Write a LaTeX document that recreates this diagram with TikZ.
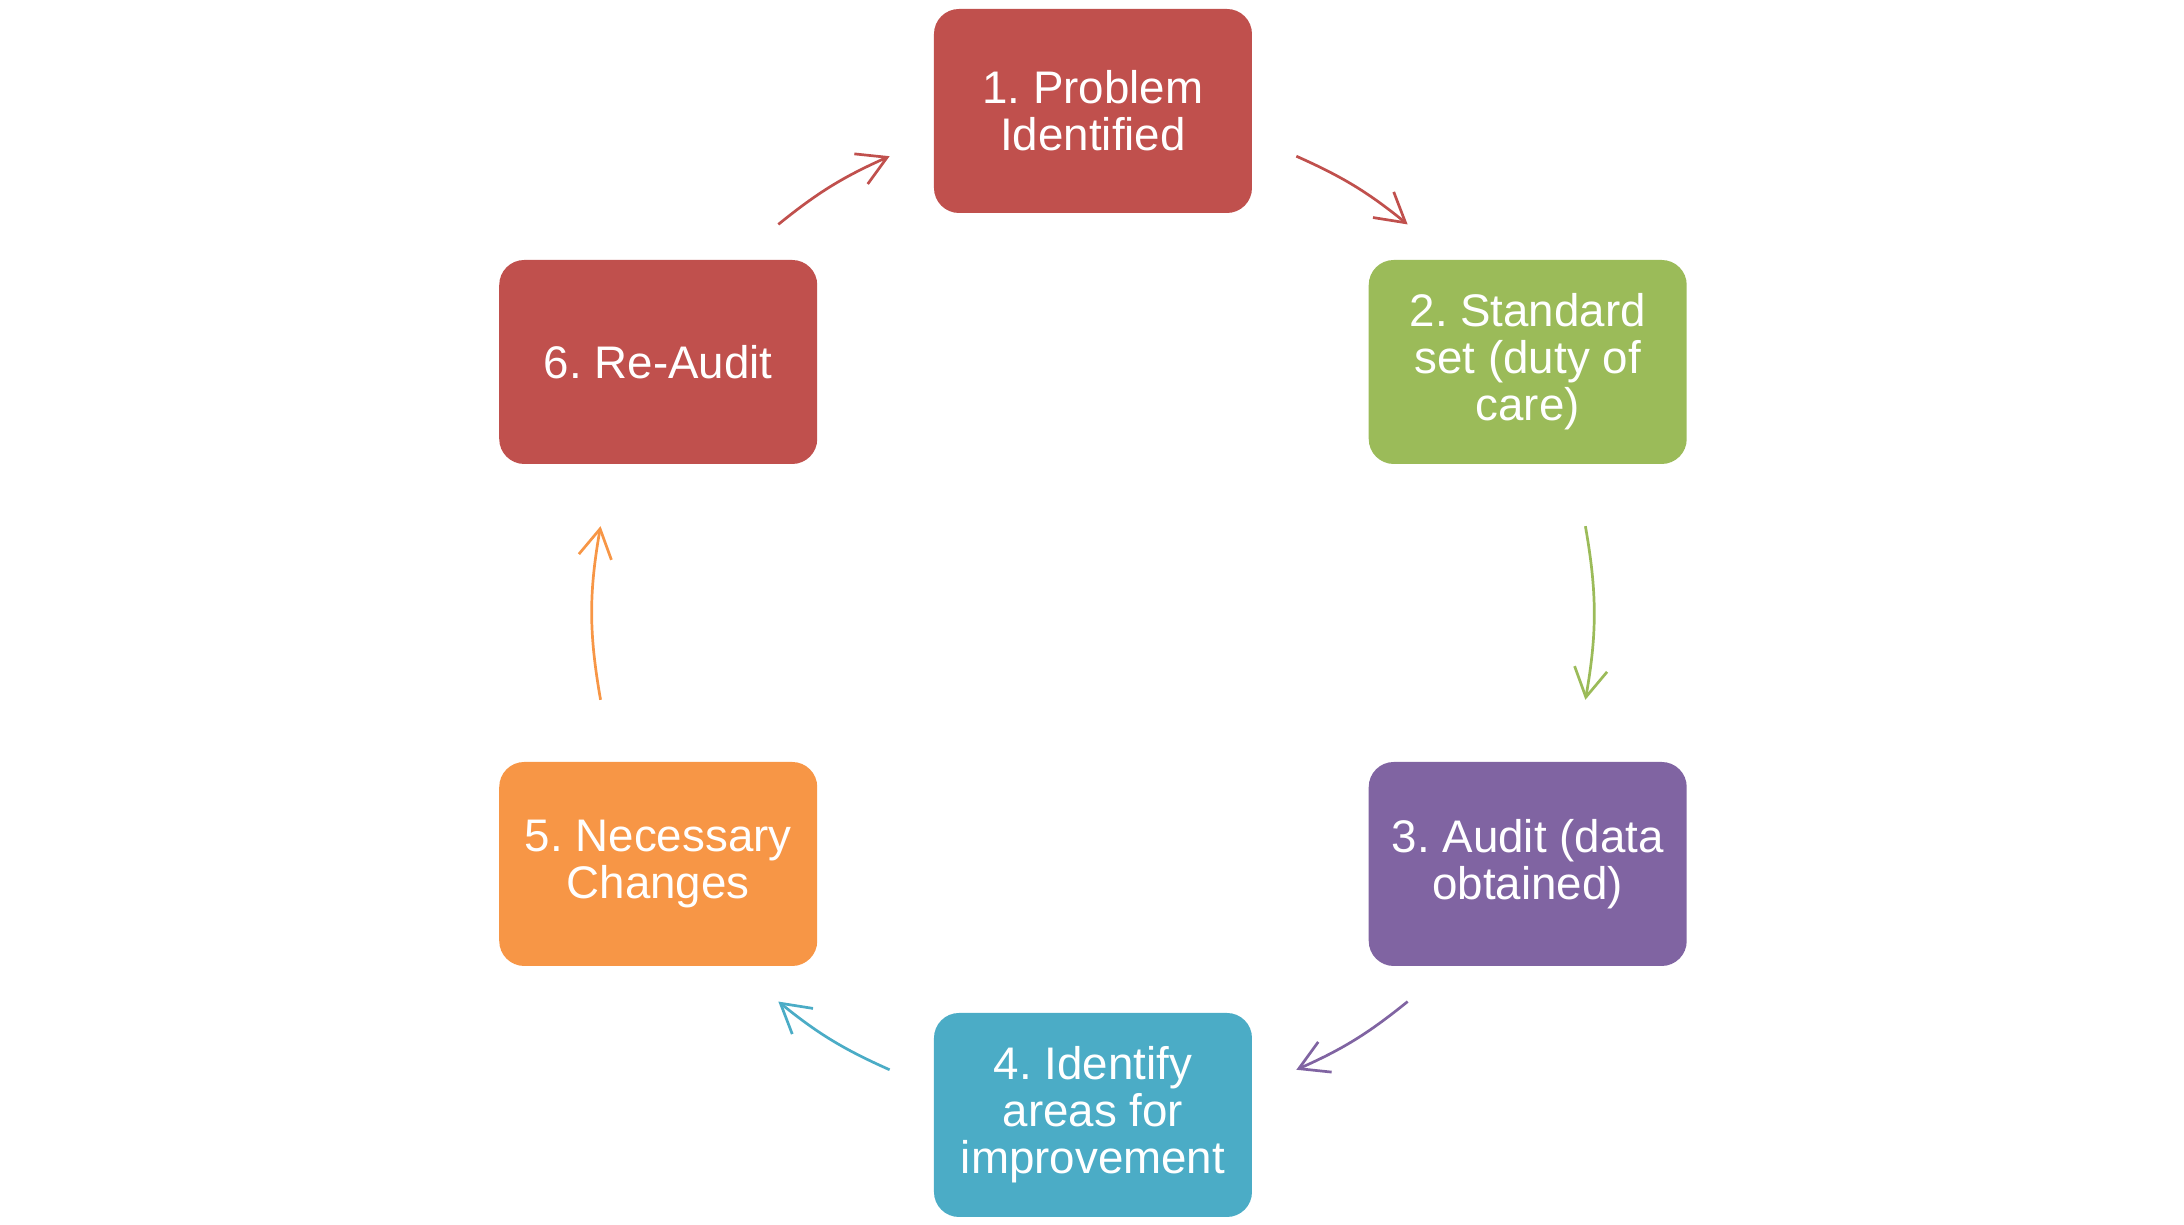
\documentclass[tikz,border=0pt]{standalone}
\usepackage{fontspec}
\setmainfont{Liberation Sans}
\usetikzlibrary{arrows.meta}

\definecolor{cred}{HTML}{C0504D}
\definecolor{cgreen}{HTML}{9BBB59}
\definecolor{cpurple}{HTML}{8064A2}
\definecolor{caqua}{HTML}{4BACC6}
\definecolor{corange}{HTML}{F79646}

\tikzset{
	stage/.style={shape=rectangle,rounded corners=0.25cm,minimum width=3.18cm,
		minimum height=2.04cm,inner sep=0pt,align=center,text=white,
		font=\fontsize{13}{13.4}\selectfont\frenchspacing},
	cyc/.style={line width=0.77pt,-{Straight Barb[angle=60:0.33cm]}}
}

\begin{document}
\begin{tikzpicture}

		\useasboundingbox (-10.93,-6.12) rectangle (10.91,6.13);

		\node[stage,fill=cred]    (p1) at (90:5.02)  {1. Problem\\Identified};
		\node[stage,fill=cgreen]  (p2) at (30:5.02)  {2. Standard\\set (duty of\\care)};
		\node[stage,fill=cpurple] (p3) at (-30:5.02) {3. Audit (data\\obtained)};
		\node[stage,fill=caqua]   (p4) at (-90:5.02) {4. Identify\\areas for\\improvement};
		\node[stage,fill=corange] (p5) at (210:5.02) {5. Necessary\\Changes};
		\node[stage,fill=cred]    (p6) at (150:5.02) {6. Re-Audit};

		\coordinate (s1) at (66:5);   \coordinate (t1) at (51:5);
		\coordinate (s2) at (10:5);   \coordinate (t2) at (-10:5);
		\coordinate (s3) at (-51:5);  \coordinate (t3) at (-66:5);
		\coordinate (s4) at (-114:5); \coordinate (t4) at (-129:5);
		\coordinate (s5) at (190:5);  \coordinate (t5) at (170:5);
		\coordinate (s6) at (129:5);  \coordinate (t6) at (114:5);

		\foreach \s/\t/\col/\bnd in {s1/t1/cred/7.5,s2/t2/cgreen/10,s3/t3/cpurple/7.5,
			s4/t4/caqua/7.5,s5/t5/corange/10,s6/t6/cred/7.5}
			\draw[cyc,\col] (\s) to[bend left=\bnd] (\t);

\end{tikzpicture}
\end{document}
